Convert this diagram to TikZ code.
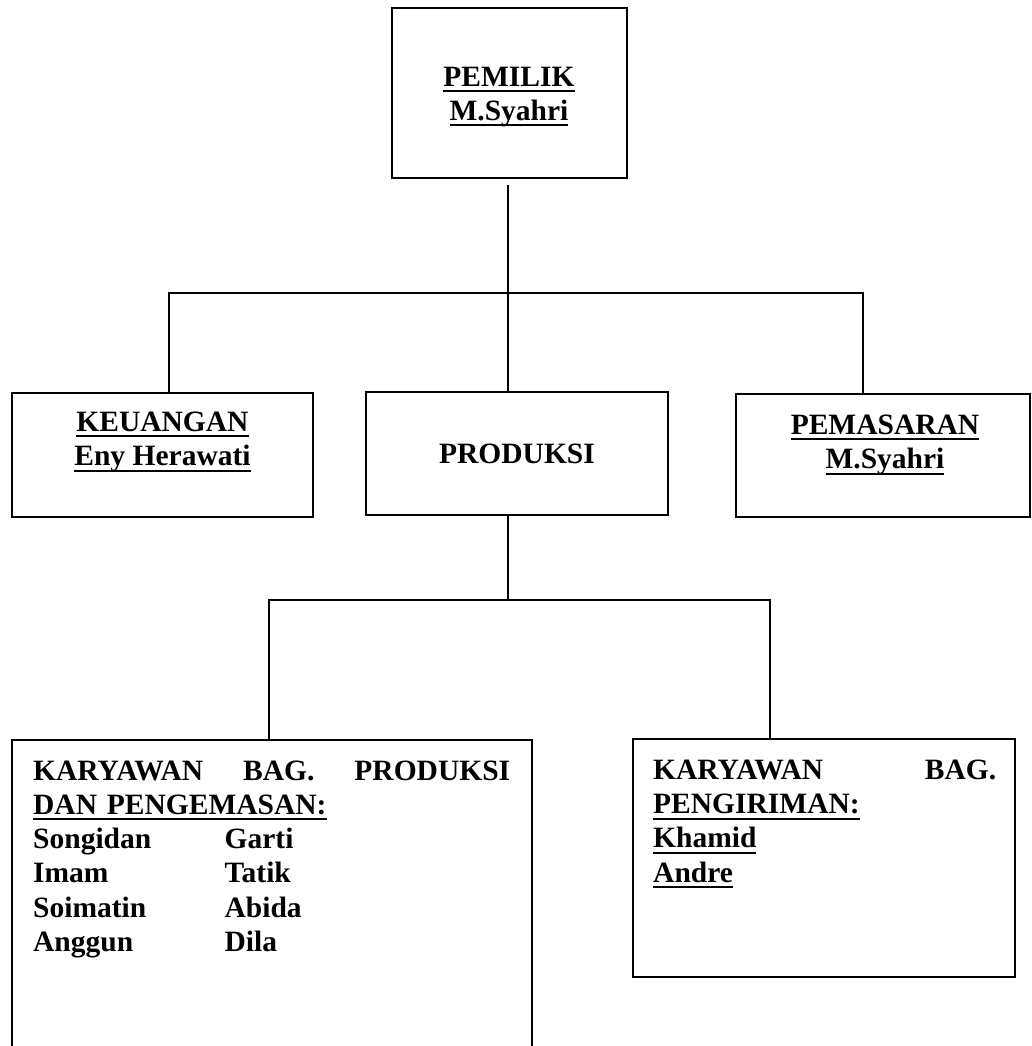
\documentclass[tikz,border=0pt]{standalone}
\usepackage{fontspec}
\setmainfont{Liberation Serif}

\newcommand\ulin[1]{\leavevmode\setbox0=\hbox{#1}\rlap{\rule[-6pt]{\wd0}{2pt}}\box0}
\newcommand\namerow[2]{\makebox[191.5pt][l]{#1}#2}

\tikzset{
  box/.style={draw, line width=1.5pt, inner sep=0pt, outer sep=0pt},
  lbl/.style={font=\bfseries\fontsize{29.5}{34.3}\selectfont, inner sep=0pt},
  link/.style={line width=1.6pt},
}

\begin{document}
\begin{tikzpicture}[x=1pt,y=-1pt]
  \useasboundingbox (0,0) rectangle (1031,1046);
  \clip (0,0) rectangle (1031,1046);

  % boxes
  \node[box, minimum width=235pt, minimum height=170pt] (pemilik) at (509.5,93) {};
  \node[box, minimum width=301pt, minimum height=124pt] (keuangan) at (162.5,455) {};
  \node[box, minimum width=302pt, minimum height=123pt] (produksi) at (517,453.5) {};
  \node[box, minimum width=294pt, minimum height=123pt] (pemasaran) at (883,455.5) {};
  \node[box, minimum width=520pt, minimum height=322pt] (kprod) at (272,901) {};
  \node[box, minimum width=382pt, minimum height=238pt] (kkirim) at (824,858) {};

  % texts (base = last line)
  \node[lbl, align=center, anchor=base] (pemiliktxt) at (509,120.5)
    {\ulin{PEMILIK}\\\ulin{M.Syahri}};
  \node[lbl, align=center, anchor=base] (keuangantxt) at (162.5,465.5)
    {\ulin{KEUANGAN}\\\ulin{Eny Herawati}};
  \node[lbl, anchor=base] (produksitxt) at (517,463.3) {PRODUKSI};
  \node[lbl, align=center, anchor=base] (pemasarantxt) at (885,468.5)
    {\ulin{PEMASARAN}\\\ulin{M.Syahri}};
  \node[lbl, text width=477pt, align=left, anchor=base west] (kprodtxt) at (33,780)
    {\makebox[\linewidth][l]{KARYAWAN\hfill BAG.\hfill PRODUKSI}\\
     \ulin{DAN PENGEMASAN:}\\
     \namerow{Songidan}{Garti}\\
     \namerow{Imam}{Tatik}\\
     \namerow{Soimatin}{Abida}\\
     \namerow{Anggun}{Dila}};
  \node[lbl, text width=343pt, align=left, anchor=base west] (kkirimtxt) at (653,779.3)
    {\makebox[\linewidth][l]{KARYAWAN\hfill BAG.}\\
     \ulin{PENGIRIMAN:}\\
     \ulin{Khamid}\\
     \ulin{Andre}};

  % connectors
  \coordinate (busL) at (169,293);
  \coordinate (busR) at (863,293);
  \coordinate (busM) at (508,293);
  \draw[link] (busM |- pemilik.south) ++(0,7) -- (busM |- produksi.north);
  \draw[link] (keuangan.north -| busL) -- (busL) -- (busR) -- (pemasaran.north -| busR);

  \coordinate (subL) at (269,600);
  \coordinate (subR) at (770,600);
  \coordinate (subM) at (508,600);
  \draw[link] (subM |- produksi.south) -- (subM);
  \draw[link] (kprod.north -| subL) -- (subL) -- (subR) -- (kkirim.north -| subR);
\end{tikzpicture}
\end{document}
